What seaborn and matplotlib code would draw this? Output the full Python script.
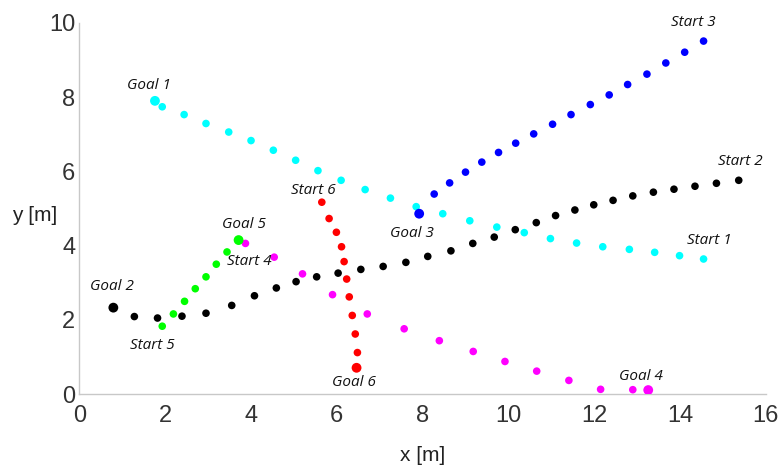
import matplotlib
matplotlib.use("Agg")
import matplotlib.pyplot as plt
import seaborn as sns
import pandas as pd

# Trajectories of six agents: waypoints (start -> goal) and the goal position
path1_x = [14.55, 13.99, 13.41, 12.82, 12.20, 11.59, 10.98, 10.37, 9.73, 9.10, 8.47,
           7.85, 7.25, 6.66, 6.10, 5.56, 5.04, 4.52, 4.00, 3.48, 2.95, 2.44, 1.93]
path1_y = [3.64, 3.73, 3.82, 3.90, 3.97, 4.07, 4.19, 4.35, 4.50, 4.67, 4.86,
           5.05, 5.28, 5.51, 5.76, 6.02, 6.30, 6.57, 6.83, 7.06, 7.29, 7.53, 7.74]
goal1 = (1.76, 7.90)

path2_x = [15.37, 14.85, 14.35, 13.86, 13.38, 12.90, 12.44, 11.99, 11.55, 11.10, 10.65,
           10.16, 9.67, 9.17, 8.66, 8.12, 7.61, 7.08, 6.56, 6.03, 5.53, 5.05, 4.59,
           4.08, 3.55, 2.95, 2.39, 1.82, 1.28]
path2_y = [5.76, 5.68, 5.60, 5.52, 5.44, 5.34, 5.22, 5.10, 4.96, 4.81, 4.62,
           4.43, 4.23, 4.06, 3.86, 3.71, 3.55, 3.44, 3.36, 3.26, 3.16, 3.03, 2.86,
           2.65, 2.39, 2.18, 2.10, 2.05, 2.09]
goal2 = (0.79, 2.33)

path3_x = [14.55, 14.11, 13.67, 13.23, 12.78, 12.35, 11.91, 11.46, 11.03, 10.59,
           10.17, 9.77, 9.38, 9.00, 8.63, 8.27]
path3_y = [9.51, 9.21, 8.92, 8.62, 8.34, 8.06, 7.80, 7.53, 7.27, 7.01,
           6.76, 6.51, 6.25, 5.98, 5.69, 5.39]
goal3 = (7.92, 4.86)

path4_x = [3.87, 4.54, 5.20, 5.90, 6.71, 7.57, 8.39, 9.18, 9.92, 10.66, 11.41, 12.15, 12.90]
path4_y = [4.06, 3.69, 3.24, 2.68, 2.16, 1.76, 1.44, 1.15, 0.88, 0.62, 0.37, 0.13, 0.12]
goal4 = (13.26, 0.11)

path5_x = [1.93, 2.19, 2.45, 2.70, 2.95, 3.19, 3.44]
path5_y = [1.83, 2.16, 2.50, 2.84, 3.16, 3.50, 3.83]
goal5 = (3.71, 4.15)

path6_x = [5.65, 5.82, 5.99, 6.11, 6.17, 6.23, 6.29, 6.36, 6.43, 6.48]
path6_y = [5.17, 4.73, 4.36, 3.97, 3.57, 3.10, 2.62, 2.12, 1.62, 1.12]
goal6 = (6.46, 0.71)

agent_colors = ["#00FFFF", "#000000", "#0000FF", "#FF00FF", "#00FF00", "#FF0000"]

paths = [(path1_x, path1_y), (path2_x, path2_y), (path3_x, path3_y),
         (path4_x, path4_y), (path5_x, path5_y), (path6_x, path6_y)]
goals = [goal1, goal2, goal3, goal4, goal5, goal6]

rows = []
for i, ((px, py), g) in enumerate(zip(paths, goals), start=1):
    for x, y in zip(px, py):
        rows.append({"agent": f"Agent {i}", "x": x, "y": y, "kind": "waypoint"})
    rows.append({"agent": f"Agent {i}", "x": g[0], "y": g[1], "kind": "goal"})
df = pd.DataFrame(rows)

sns.set_theme(style="white")
plt.rcParams["font.family"] = ["Liberation Sans Narrow", "Liberation Sans", "DejaVu Sans"]

fig = plt.figure(figsize=(7.79, 4.67), dpi=100)
ax = fig.add_axes([0.102, 0.156, 0.881, 0.795])

palette = {f"Agent {i+1}": c for i, c in enumerate(agent_colors)}
sns.scatterplot(data=df[df.kind == "waypoint"], x="x", y="y", hue="agent",
                palette=palette, s=30, linewidth=0, legend=False, ax=ax,
                zorder=3)
sns.scatterplot(data=df[df.kind == "goal"], x="x", y="y", hue="agent",
                palette=palette, s=50, linewidth=0, legend=False, ax=ax,
                zorder=4)

# Start / goal annotations
labels = [
    ("Goal 1", 1.61, 8.32), ("Start 1", 14.68, 4.15),
    ("Goal 2", 0.76, 2.91), ("Start 2", 15.41, 6.27),
    ("Goal 3", 7.76, 4.33), ("Start 3", 14.31, 10.01),
    ("Goal 4", 13.09, 0.47), ("Start 4", 3.95, 3.56),
    ("Goal 5", 3.84, 4.58), ("Start 5", 1.69, 1.30),
    ("Goal 6", 6.40, 0.31), ("Start 6", 5.46, 5.49),
]
for text, x, y in labels:
    ax.text(x, y, text, ha="center", va="center", fontsize=11, style="italic",
            color="#111111", family=["Open Sans", "DejaVu Sans"], clip_on=False)

ax.set_xlim(0, 16)
ax.set_ylim(0, 10)
ax.set_xticks(range(0, 17, 2))
ax.set_yticks(range(0, 11, 2))

for side in ("top", "right"):
    ax.spines[side].set_visible(False)
for side in ("left", "bottom"):
    ax.spines[side].set_color("#c8c8c8")
    ax.spines[side].set_linewidth(1.0)

ax.tick_params(axis="both", direction="in", length=5, width=0.8,
               color="#c8c8c8", labelsize=17, labelcolor="#333333")
ax.tick_params(axis="x", pad=8)
ax.tick_params(axis="y", pad=3)

ax.set_xlabel("x [m]", fontsize=15, color="#222222", va="center")
ax.set_ylabel("y [m]", fontsize=15, color="#222222", rotation=0,
              va="center", ha="center")
ax.xaxis.set_label_coords(0.5, -0.165)
ax.yaxis.set_label_coords(-0.065, 0.48)

fig.savefig("out.png", dpi=100)
